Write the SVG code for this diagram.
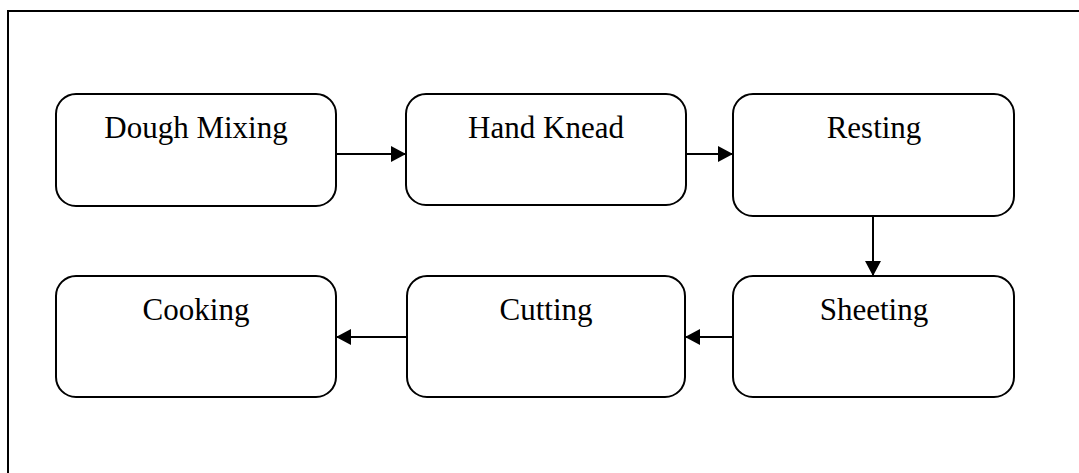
<svg xmlns="http://www.w3.org/2000/svg" width="1079" height="473" viewBox="0 0 1079 473">
  <style>
    .box { fill: #ffffff; stroke: #000000; stroke-width: 2; }
    .label { font-family: "Liberation Serif", "Times New Roman", serif; font-size: 31px; fill: #000000; text-anchor: middle; }
    .link { stroke: #000000; stroke-width: 2; fill: none; marker-end: url(#arrow); }
    .frame { stroke: #000000; stroke-width: 2; fill: none; }
  </style>
  <defs>
    <marker id="arrow" markerWidth="16" markerHeight="16" refX="15" refY="8" orient="auto" markerUnits="userSpaceOnUse">
      <path d="M0,0 L15,8 L0,16 Z" fill="#000000"/>
    </marker>
  </defs>
  <rect width="1079" height="473" fill="#ffffff"/>
  <!-- page frame: top and left edges -->
  <path class="frame" d="M8,473 L8,11 L1079,11"/>

  <g id="dough-mixing">
    <rect class="box" x="56" y="94" width="280" height="112" rx="20" ry="20"/>
    <text class="label" x="196" y="138">Dough Mixing</text>
  </g>
  <g id="hand-knead">
    <rect class="box" x="406" y="94" width="280" height="111" rx="20" ry="20"/>
    <text class="label" x="546" y="138">Hand Knead</text>
  </g>
  <g id="resting">
    <rect class="box" x="733" y="94" width="281" height="122" rx="20" ry="20"/>
    <text class="label" x="874" y="138">Resting</text>
  </g>
  <g id="sheeting">
    <rect class="box" x="733" y="276" width="281" height="121" rx="20" ry="20"/>
    <text class="label" x="874" y="320">Sheeting</text>
  </g>
  <g id="cutting">
    <rect class="box" x="407" y="276" width="278" height="121" rx="20" ry="20"/>
    <text class="label" x="546" y="320">Cutting</text>
  </g>
  <g id="cooking">
    <rect class="box" x="56" y="276" width="280" height="121" rx="20" ry="20"/>
    <text class="label" x="196" y="320">Cooking</text>
  </g>

  <g id="connectors">
    <line class="link" x1="336" y1="154" x2="406" y2="154"/>
    <line class="link" x1="686" y1="154" x2="733" y2="154"/>
    <line class="link" x1="873" y1="216" x2="873" y2="276"/>
    <line class="link" x1="733" y1="337" x2="685" y2="337"/>
    <line class="link" x1="407" y1="337" x2="336" y2="337"/>
  </g>
</svg>
